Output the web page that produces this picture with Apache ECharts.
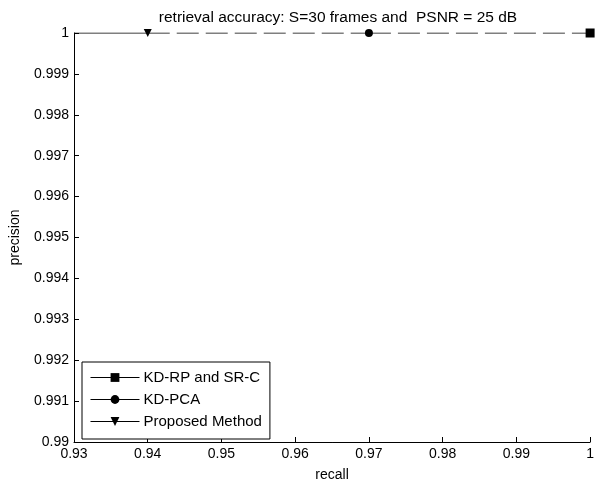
<!DOCTYPE html>
<html>
<head>
<meta charset="utf-8">
<script src="https://cdn.jsdelivr.net/npm/echarts@6/dist/echarts.min.js"></script>
<style>
  html, body { margin: 0; padding: 0; background: #fff; }
  #main { width: 597px; height: 488px; }
</style>
</head>
<body>
<div id="main"></div>
<script>
// series data (recall, precision)
var proposedRecall = [0.93, 0.94];
var proposedPrecision = [1, 1];
var pcaRecall = [0.94, 0.97];
var pcaPrecision = [1, 1];
var rpRecall = [0.97, 1.0];
var rpPrecision = [1, 1];

var seriesNames = ['KD-RP and SR-C', 'KD-PCA', 'Proposed Method'];

function pts(xs, ys) {
    return xs.map(function (x, i) {
        // marker only on the last point of each piece
        if (i < xs.length - 1) return {value: [x, ys[i]], symbol: 'none'};
        return [x, ys[i]];
    });
}

function fmt(v) {
    return String(parseFloat(v.toFixed(3)));
}

var font = 'Liberation Sans, Arial, sans-serif';

var option = {
    backgroundColor: '#fff',
    animation: false,
    title: {
        text: 'retrieval accuracy: S=30 frames and  PSNR = 25 dB',
        left: 333,
        top: 5,
        textAlign: 'center',
        textStyle: {fontFamily: font, fontSize: 15.5, fontWeight: 'normal', color: '#000'}
    },
    grid: {left: 73, right: 3, top: 33, bottom: 46},
    legend: {
        orient: 'vertical',
        left: 82,
        top: 362,
        width: 191,
        padding: [8, 8, 10, 8],
        itemGap: 7,
        itemWidth: 49,
        itemHeight: 11,
        backgroundColor: '#fff',
        borderColor: '#000',
        borderWidth: 1,
        data: seriesNames,
        lineStyle: {type: 'solid', width: 1, color: '#000'},
        textStyle: {fontFamily: font, fontSize: 15, color: '#000', padding: [0, 0, 0, -1]}
    },
    xAxis: {
        type: 'value',
        name: 'recall',
        nameLocation: 'middle',
        nameGap: 26,
        nameTextStyle: {fontFamily: font, fontSize: 14, color: '#000'},
        min: 0.93,
        max: 1,
        interval: 0.01,
        axisLine: {lineStyle: {color: '#000', width: 1}},
        axisTick: {inside: true, length: 5, lineStyle: {color: '#000'}},
        axisLabel: {fontFamily: font, fontSize: 14, color: '#000', margin: 5, formatter: fmt},
        splitLine: {show: false}
    },
    yAxis: {
        type: 'value',
        name: 'precision',
        nameLocation: 'middle',
        nameGap: 52,
        nameTextStyle: {fontFamily: font, fontSize: 14, color: '#000'},
        min: 0.99,
        max: 1,
        interval: 0.001,
        axisLine: {lineStyle: {color: '#000', width: 1}},
        axisTick: {inside: true, length: 5, lineStyle: {color: '#000'}},
        axisLabel: {fontFamily: font, fontSize: 14, color: '#000', margin: 5, formatter: fmt},
        splitLine: {show: false}
    },
    series: [{
        name: 'KD-RP and SR-C',
        type: 'line',
        symbol: 'rect',
        symbolSize: 9,
        itemStyle: {color: '#000'},
        lineStyle: {color: '#000', width: 1.2, type: [22, 7]},
        data: pts(rpRecall, rpPrecision)
    }, {
        name: 'KD-PCA',
        type: 'line',
        symbol: 'circle',
        symbolSize: 8,
        itemStyle: {color: '#000'},
        lineStyle: {color: '#000', width: 1.2, type: [22, 7]},
        data: pts(pcaRecall, pcaPrecision)
    }, {
        name: 'Proposed Method',
        type: 'line',
        symbol: 'triangle',
        symbolRotate: 180,
        symbolSize: 8,
        itemStyle: {color: '#000'},
        lineStyle: {color: '#000', width: 1},
        data: pts(proposedRecall, proposedPrecision)
    }]
};

var chart = echarts.init(document.getElementById('main'));
chart.setOption(option);
</script>
</body>
</html>
